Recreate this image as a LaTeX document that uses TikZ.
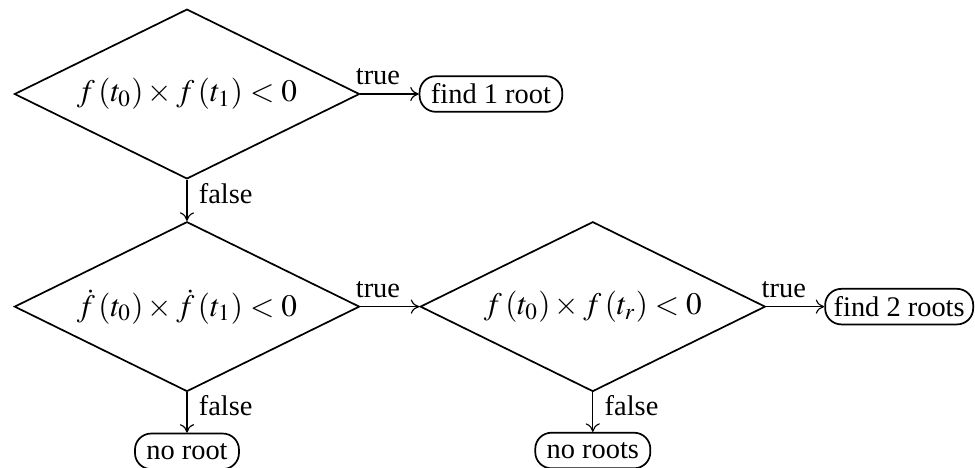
\documentclass[tikz,border=0pt]{standalone}
\usepackage{mathptmx}
\usepackage{fontspec}
\setmainfont{Liberation Serif}
\usetikzlibrary{shapes.geometric, arrows.meta, positioning}
\tikzstyle{decision} = [diamond, aspect=2, minimum width=4.27cm, minimum height=2.1cm, inner sep=0pt, text centered, draw=black, semithick, font=\fontsize{11}{13}\selectfont]
\tikzstyle{result} = [rectangle, rounded corners=0.2cm, minimum height=0.44cm, inner xsep=4pt, inner ysep=1pt, text centered, draw=black, semithick]
\tikzstyle{arrow} = [-{To[length=3pt, width=5pt]}]
\tikzstyle{yes} = [anchor=south west, pos=0, inner sep=3pt, xshift=-4.8pt]
\tikzstyle{no} = [anchor=north west, pos=0, inner sep=1pt, xshift=3pt]

\begin{document}
\begin{tikzpicture}[node distance=2.63cm]
\useasboundingbox (-2.313,1.163) rectangle (9.748,-4.626);

\node (sign) [decision] {$f\left(t_0\right)\times f\left(t_1\right)<0$};
\node (onefound) [result, right of=sign, xshift=1.13cm] {find 1 root};
\node (slope) [decision, below of=sign] {$\dot{f}\left(t_0\right)\times \dot{f}\left(t_1\right)<0$};
\node (turn) [decision, right of=slope, xshift=2.39cm] {$f\left(t_0\right)\times f\left(t_r\right)<0$};
\node (twofound) [result, right of=turn, xshift=1.16cm, inner xsep=3pt] {find 2 roots};
\node (noroot) [result, below of=slope, yshift=0.84cm] {no root};
\node (noroots) [result, below of=turn, yshift=0.85cm] {no roots};

\draw [arrow] (sign.east) -- node[yes] {true} (onefound.west);
\draw [arrow] (sign.south) -- node[no] {false} (slope.north);
\draw [arrow] (slope.east) -- node[yes] {true} (turn.west);
\draw [arrow] (slope.south) -- node[no] {false} (noroot.north);
\draw [arrow] (turn.east) -- node[yes] {true} (twofound.west);
\draw [arrow] (turn.south) -- node[no] {false} (noroots.north);

\end{tikzpicture}
\end{document}
